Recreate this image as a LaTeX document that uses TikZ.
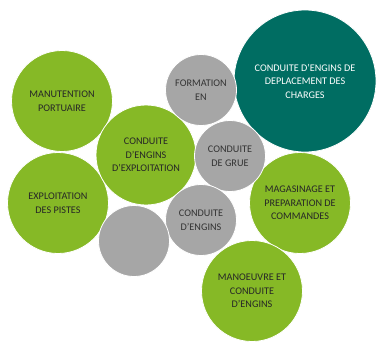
\documentclass[tikz,border=0pt]{standalone}
\usepackage{fontspec}
\setmainfont{Carlito}
\usepackage{xcolor}
\definecolor{ballgreen}{HTML}{86B926}
\definecolor{ballteal}{HTML}{006D62}
\definecolor{ballgray}{HTML}{A6A6A6}
\usetikzlibrary{positioning}

\tikzset{
	ball/.style={circle, draw=white, line width=0.8pt, inner sep=0pt, align=center,
		font=\fontsize{10.2}{13.5}\selectfont},
	greenball/.style={ball, fill=ballgreen, text=black!85},
	grayball/.style={ball, fill=ballgray, text=black!80},
	tealball/.style={ball, fill=ballteal, text=white},
}

\begin{document}
\begin{tikzpicture}[x=1pt, y=-1pt]
	% frame of the picture
	\useasboundingbox (0,0) rectangle (382,343);
	% big dark circle
	\node[tealball, minimum size=142pt] (charges) at (305,81) {CONDUITE D’ENGINS DE\\DEPLACEMENT DES\\CHARGES};
	% green circles
	\node[greenball, minimum size=101pt] (portuaire) at (62,101) {MANUTENTION\\PORTUAIRE};
	\node[greenball, minimum size=101pt] (pistes) at (58,203) {EXPLOITATION\\DES PISTES};
	\node[greenball, minimum size=100pt] (exploitation) at (146,155) {CONDUITE\\D’ENGINS\\D’EXPLOITATION};
	\node[greenball, minimum size=101pt] (magasinage) at (300,203) {MAGASINAGE ET\\PREPARATION DE\\COMMANDES};
	\node[greenball, minimum size=101pt] (manoeuvre) at (252,291) {MANOEUVRE ET\\CONDUITE\\D’ENGINS};
	% gray circles
	\node[grayball, minimum size=71pt] (formation) at (201,90) {FORMATION\\EN};
	\node[grayball, minimum size=71pt] (grue) at (230,156) {CONDUITE\\DE GRUE};
	\node[grayball, minimum size=71pt] (engins) at (201,220) {CONDUITE\\D’ENGINS};
	\node[grayball, minimum size=71pt] (vide) at (134,241) {};
\end{tikzpicture}
\end{document}
